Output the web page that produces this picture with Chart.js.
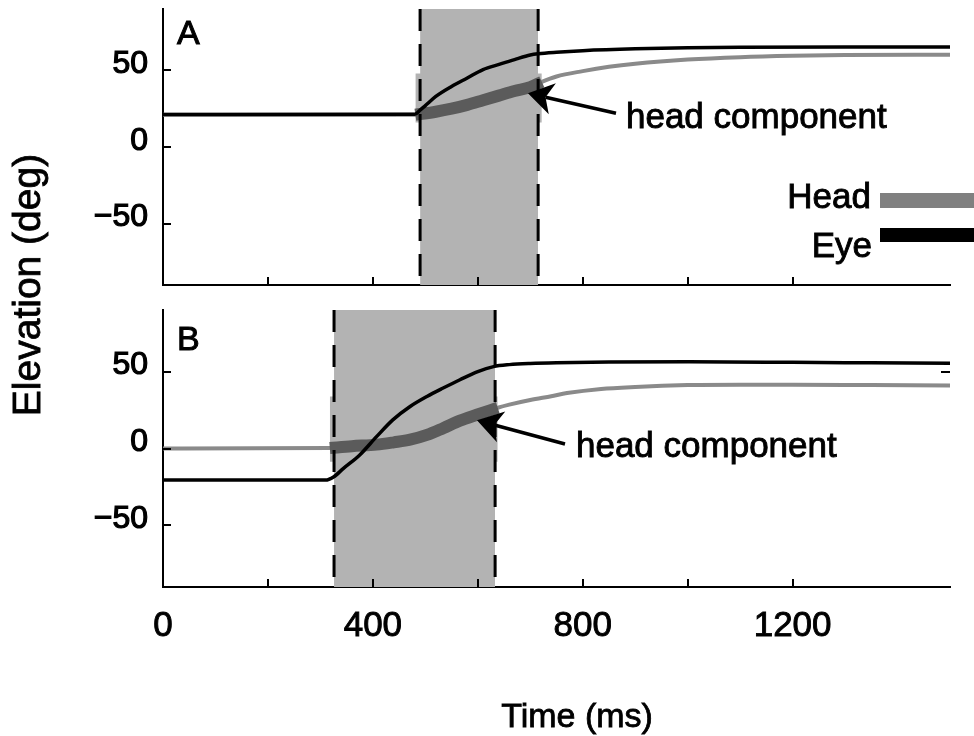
<!DOCTYPE html>
<html>
<head>
<meta charset="utf-8">
<script src="https://cdn.jsdelivr.net/npm/chart.js@4.4.1/dist/chart.umd.min.js"></script>
<style>
  html, body { margin: 0; padding: 0; background: #fff; }
  #wrap { position: relative; width: 974px; height: 736px; overflow: hidden;
          font-family: "Liberation Sans", Arial, sans-serif; color: #000; }
  #chartA { position: absolute; left: 0; top: 0; }
  #chartB { position: absolute; left: 0; top: 300px; }
  #ytitle { position: absolute; left: -173px; top: 263px; width: 400px; height: 44px;
            line-height: 44px; font-size: 39px; text-align: center;
            transform: rotate(-90deg); transform-origin: 200px 22px; white-space: nowrap;
            -webkit-text-stroke: 0.8px #000; }
  #xtitle { position: absolute; left: 427px; top: 695px; width: 300px; height: 40px;
            line-height: 40px; font-size: 34px; text-align: center; white-space: nowrap;
            -webkit-text-stroke: 0.8px #000; }
</style>
</head>
<body>
<div id="wrap">
  <canvas id="chartA" width="974" height="300"></canvas>
  <canvas id="chartB" width="974" height="436"></canvas>
  <div id="ytitle">Elevation (deg)</div>
  <div id="xtitle">Time (ms)</div>
</div>
<script>
// tick labels
const timeLabels = [0, 400, 800, 1200];
const elevLabels = [-50, 0, 50];

// panel A (ms / deg)
const aEyeT  = [0, 480, 490, 500, 520, 550, 580, 610, 642, 674, 700, 715, 750, 800, 900, 1000, 1100, 1300, 1500];
const aEyeV  = [21.2, 21.3, 24, 27, 33, 39.5, 45, 50.5, 54, 57.5, 60, 60.8, 61.8, 62.8, 64, 64.7, 65, 65.2, 65.2];
const aHeadT = [0, 481, 520, 550, 580, 610, 640, 670, 700, 722, 750, 800, 850, 900, 1000, 1100, 1200, 1300, 1500];
const aHeadV = [21, 21, 23, 25, 27.5, 30.5, 33.5, 36.5, 39, 42.5, 46, 49.5, 52.3, 54.3, 57, 58.6, 59.5, 60, 60.2];
const aShift = [490, 715];          // gaze shift (shaded, dashed edges)
const aComp  = [481, 722];          // head component window
const aCompBox = [16, 48];
const aArrow = [695.6, 35.1, 863.4, 22.0];
const aText  = [882.4, 12.2];

// panel B
const bEyeT  = [0, 310, 325, 344, 375, 407, 438, 471, 503, 534, 566, 600, 630, 660, 700, 750, 850, 1000, 1200, 1350, 1500];
const bEyeV  = [-20.5, -20.5, -18.5, -12.9, -4.2, 7.7, 18.6, 27.3, 33.8, 39.3, 44.7, 50, 53.2, 54.5, 55.3, 55.8, 56.2, 56.3, 56, 55.7, 55.4];
const bHeadT = [0, 318, 360, 407, 440, 471, 503, 534, 566, 598, 638, 660, 700, 740, 770, 835, 900, 1000, 1100, 1200, 1350, 1500];
const bHeadV = [0, 0.3, 1.5, 2.5, 4, 5.7, 8.8, 13.2, 18.1, 21.9, 26.5, 28.5, 31.5, 34, 36, 38.7, 40, 41.2, 41.5, 41.5, 41.2, 40.9];
const bShift = [326, 633];
const bComp  = [318, 638];
const bCompBox = [-8.6, 33.8];
const bArrow = [598.4, 18.3, 766.2, 2.9];
const bText  = [787.1, -5.3];

const FONT = '"Liberation Sans", Arial, sans-serif';
const SHADE = '#b3b3b3';
const HEAD = '#8a8a8a';
const HEADCOMP = '#5b5b5b';
Chart.defaults.font.family = FONT;
Chart.defaults.color = '#000';

function pts(t, v) { return t.map((x, i) => ({x: x, y: v[i]})); }
function within(t, v, w) { return pts(t, v).filter(p => p.x >= w[0] && p.x <= w[1]); }

function heavyText(ctx, s, x, y) {
  ctx.fillText(s, x, y);
  ctx.strokeText(s, x, y);
}

const inwardTicks = {
  id: 'inwardTicks',
  afterDraw(chart, args, opts) {
    const {ctx, chartArea: a, scales: {x, y}} = chart;
    ctx.save();
    ctx.strokeStyle = '#000';
    ctx.lineWidth = 2;
    ctx.beginPath();
    x.ticks.forEach(t => {
      if (t.value <= x.min || t.value >= x.max) return;
      const px = Math.round(x.getPixelForValue(t.value));
      ctx.moveTo(px, a.bottom); ctx.lineTo(px, a.bottom - 8);
    });
    y.ticks.forEach(t => {
      if (t.value <= y.min || t.value >= y.max) return;
      const py = Math.round(y.getPixelForValue(t.value));
      ctx.moveTo(a.left, py); ctx.lineTo(a.left + 8, py);
    });
    (opts.right || []).forEach(v => {
      const py = Math.round(y.getPixelForValue(v));
      ctx.moveTo(a.right, py); ctx.lineTo(a.right - 9, py);
    });
    ctx.stroke();
    ctx.restore();
  }
};

const notes = {
  id: 'notes',
  afterDraw(chart, args, o) {
    const {ctx, chartArea: a, scales: {x, y}} = chart;
    ctx.save();
    ctx.fillStyle = '#000';
    ctx.strokeStyle = '#000';
    ctx.textBaseline = 'alphabetic';
    ctx.textAlign = 'left';
    ctx.lineWidth = 1;
    ctx.font = '34px ' + FONT;
    heavyText(ctx, o.letter, a.left + o.letterAt[0], a.top + o.letterAt[1]);

    // arrow pointing at the head component
    const tx = x.getPixelForValue(o.arrow[0]), ty = y.getPixelForValue(o.arrow[1]);
    const sx = x.getPixelForValue(o.arrow[2]), sy = y.getPixelForValue(o.arrow[3]);
    const len = Math.hypot(sx - tx, sy - ty);
    const ux = (sx - tx) / len, uy = (sy - ty) / len, nx = -uy, ny = ux;
    const L = 25, W = 16, N = 18;
    ctx.lineWidth = 3.5;
    ctx.beginPath();
    ctx.moveTo(tx + ux * N, ty + uy * N);
    ctx.lineTo(sx, sy);
    ctx.stroke();
    ctx.beginPath();
    ctx.moveTo(tx, ty);
    ctx.lineTo(tx + ux * L + nx * W, ty + uy * L + ny * W);
    ctx.lineTo(tx + ux * N, ty + uy * N);
    ctx.lineTo(tx + ux * L - nx * W, ty + uy * L - ny * W);
    ctx.closePath();
    ctx.fill();

    ctx.lineWidth = 0.9;
    ctx.font = '35px ' + FONT;
    heavyText(ctx, o.text, x.getPixelForValue(o.textAt[0]), y.getPixelForValue(o.textAt[1]));

    if (o.legend) {
      ctx.textAlign = 'right';
      o.legend.forEach(it => {
        ctx.fillStyle = '#000';
        heavyText(ctx, it.label, it.textRight, it.baseline);
        ctx.fillStyle = it.color;
        ctx.fillRect(it.barLeft, it.barTop, chart.width - it.barLeft, it.barH);
      });
    }
    ctx.restore();
  }
};

function makePanel(id, d) {
  const datasets = [];
  d.shift.forEach(xv => datasets.push({
    data: [{x: xv, y: 90}, {x: xv, y: -90}],
    borderColor: '#000', borderWidth: 3, borderDash: [22, 13], pointRadius: 0, order: 0
  }));
  datasets.push({
    data: pts(d.eyeT, d.eyeV), borderColor: '#000', borderWidth: 3.5,
    cubicInterpolationMode: 'monotone', pointRadius: 0, order: 1
  });
  datasets.push({
    data: within(d.headT, d.headV, d.comp), borderColor: HEADCOMP, borderWidth: 12,
    borderCapStyle: 'butt', cubicInterpolationMode: 'monotone', pointRadius: 0, order: 2
  });
  datasets.push({
    data: pts(d.headT, d.headV), borderColor: HEAD, borderWidth: 4,
    cubicInterpolationMode: 'monotone', pointRadius: 0, order: 3
  });
  datasets.push({
    data: [{x: d.comp[0], y: d.compBox[1]}, {x: d.comp[1], y: d.compBox[1]}],
    borderWidth: 0, pointRadius: 0, fill: {value: d.compBox[0]}, backgroundColor: SHADE, order: 4
  });
  datasets.push({
    data: [{x: d.shift[0], y: 90}, {x: d.shift[1], y: 90}],
    borderWidth: 0, pointRadius: 0, fill: 'start', backgroundColor: SHADE, order: 5
  });

  return new Chart(document.getElementById(id), {
    type: 'line',
    data: {datasets: datasets},
    plugins: [inwardTicks, notes],
    options: {
      responsive: false,
      animation: false,
      devicePixelRatio: 1,
      layout: {padding: {left: 0, right: 24, top: d.padTop, bottom: 0}},
      plugins: {
        legend: {display: false},
        tooltip: {enabled: false},
        inwardTicks: {right: d.rightTicks},
        notes: d.notes
      },
      scales: {
        x: {
          type: 'linear', min: 0, max: 1500, z: 1,
          afterFit: s => { s.height = d.xHeight; s.paddingLeft = 0; s.paddingRight = 0; },
          grid: {drawOnChartArea: false, drawTicks: false},
          border: {display: true, color: '#000', width: 2},
          ticks: {
            display: d.xLabels, stepSize: 200, autoSkip: false, maxRotation: 0, padding: 18,
            font: {size: 35}, color: '#000', textStrokeColor: '#000', textStrokeWidth: 0.9,
            callback: v => timeLabels.includes(v) ? String(v) : ''
          }
        },
        y: {
          type: 'linear', min: -90, max: 90, z: 1,
          afterFit: s => { s.width = 163; s.paddingTop = 0; s.paddingBottom = 0; },
          grid: {drawOnChartArea: false, drawTicks: false},
          border: {display: true, color: '#000', width: 2},
          ticks: {
            stepSize: 50, autoSkip: false, padding: 15, labelOffset: -6,
            font: {size: 32}, color: '#000', textStrokeColor: '#000', textStrokeWidth: 1.2,
            callback: v => elevLabels.includes(v) ? String(v).replace('-', '\u2212') : ''
          }
        }
      }
    }
  });
}

makePanel('chartA', {
  eyeT: aEyeT, eyeV: aEyeV, headT: aHeadT, headV: aHeadV,
  shift: aShift, comp: aComp, compBox: aCompBox,
  padTop: 9, xHeight: 15, xLabels: false, rightTicks: [],
  notes: {
    letter: 'A', letterAt: [14, 35], arrow: aArrow, text: 'head component', textAt: aText,
    legend: [
      {label: 'Head', color: '#808080', textRight: 871, baseline: 208, barLeft: 880, barTop: 193, barH: 15},
      {label: 'Eye', color: '#000', textRight: 872, baseline: 257, barLeft: 880, barTop: 228, barH: 14}
    ]
  }
});

makePanel('chartB', {
  eyeT: bEyeT, eyeV: bEyeV, headT: bHeadT, headV: bHeadV,
  shift: bShift, comp: bComp, compBox: bCompBox,
  padTop: 10, xHeight: 149, xLabels: true, rightTicks: [50],
  notes: {letter: 'B', letterAt: [14, 40], arrow: bArrow, text: 'head component', textAt: bText}
});
</script>
</body>
</html>
